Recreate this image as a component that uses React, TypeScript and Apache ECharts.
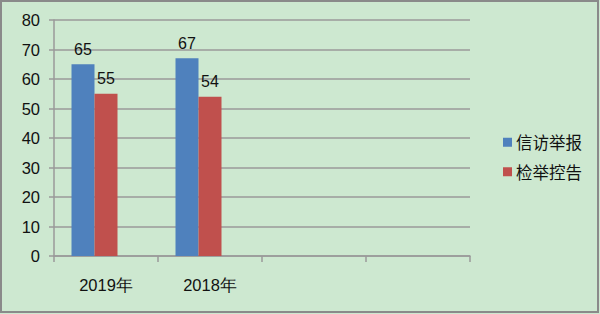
import React, { useEffect, useRef } from "react";
import * as echarts from "echarts";

const categories = ["2019年", "2018年", "", ""];
const seriesNames = ["信访举报", "检举控告"];
const xinfang = [65, 67, null, null];
const jianju = [55, 54, null, null];
const emptySeries = [null, null, null, null];
const yTicks = { min: 0, max: 80, interval: 10 };

export default function App() {
  const ref = useRef<HTMLDivElement>(null);
  useEffect(() => {
    if (!ref.current) return;
    const chart = echarts.init(ref.current, null, { renderer: "svg" });
    const font = "'Liberation Sans', Arial, sans-serif";
    const labelCommon = {
      show: true,
      position: "top",
      distance: 7,
      color: "#111",
      fontSize: 16,
      fontFamily: font,
    };
    chart.setOption({
      animation: false,
      backgroundColor: "#cde8d0",
      graphic: [
        {
          type: "rect",
          shape: { x: 1, y: 1, width: 597, height: 311 },
          style: { fill: "none", stroke: "#8a8a8a", lineWidth: 2 },
          silent: true,
        },
      ],
      grid: { left: 54, right: 130, top: 20, bottom: 58 },
      legend: {
        orient: "vertical",
        left: 498,
        top: 129,
        itemWidth: 9,
        itemHeight: 9,
        itemGap: 13,
        icon: "rect",
        data: seriesNames,
        textStyle: { fontSize: 16.5, color: "#111", fontFamily: "'Noto Sans CJK SC', sans-serif", padding: [0, 0, 0, -1] },
      },
      xAxis: {
        type: "category",
        data: categories,
        axisLine: { show: true, lineStyle: { color: "#9a9a9a", width: 1.5 } },
        axisTick: { show: true, length: 6, lineStyle: { color: "#9a9a9a", width: 1.5 } },
        axisLabel: { color: "#111", fontSize: 16.5, margin: 20, fontFamily: font },
        splitLine: { show: false },
      },
      yAxis: {
        type: "value",
        min: yTicks.min,
        max: yTicks.max,
        interval: yTicks.interval,
        axisLine: { show: true, lineStyle: { color: "#9a9a9a", width: 1.5 } },
        axisTick: { show: true, length: 5, lineStyle: { color: "#9a9a9a", width: 1.5 } },
        axisLabel: { color: "#111", fontSize: 16.5, margin: 14, fontFamily: font },
        splitLine: { show: true, lineStyle: { color: "#9a9a9a", width: 1.5 } },
      },
      series: [
        {
          name: seriesNames[0],
          type: "bar",
          data: xinfang,
          barWidth: 23,
          barGap: "0%",
          itemStyle: { color: "#4f81bd" },
          label: labelCommon,
        },
        {
          name: seriesNames[1],
          type: "bar",
          data: jianju,
          barWidth: 23,
          barGap: "0%",
          itemStyle: { color: "#c0504d" },
          label: labelCommon,
        },
        {
          name: "",
          type: "bar",
          data: emptySeries,
          barWidth: 23,
          barGap: "0%",
        },
      ],
    });
    return () => chart.dispose();
  }, []);
  return (
    <div
      ref={ref}
      style={{ position: "fixed", left: 0, top: 0, width: 600, height: 314 }}
    />
  );
}
